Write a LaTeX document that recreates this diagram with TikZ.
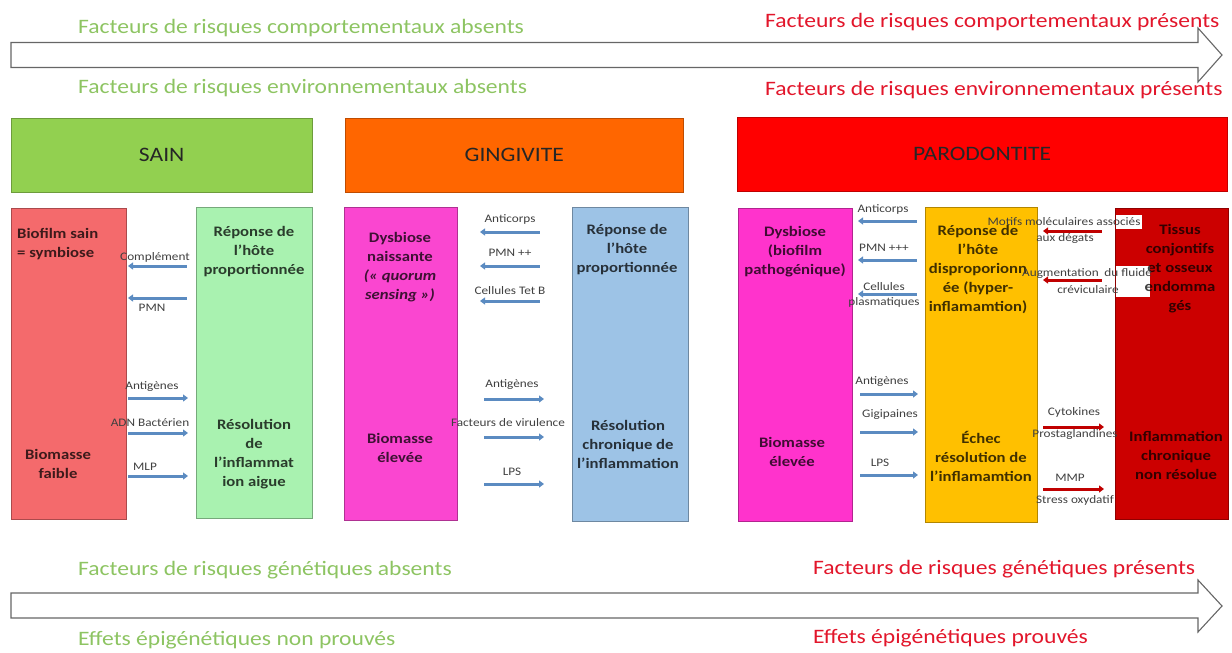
\documentclass[tikz,border=0pt]{standalone}
\usepackage{fontspec}
\setmainfont{Carlito}[FakeStretch=1.15]
\usetikzlibrary{arrows.meta}

\definecolor{absgreen}{HTML}{8DC462}
\definecolor{presred}{HTML}{E2162B}
\definecolor{sainc}{HTML}{92D050}
\definecolor{gingc}{HTML}{FF6600}
\definecolor{paroc}{HTML}{FF0000}
\definecolor{biofc}{HTML}{F46A6C}
\definecolor{repgc}{HTML}{A9F2B0}
\definecolor{dysc}{HTML}{FA46D0}
\definecolor{repbc}{HTML}{9DC3E6}
\definecolor{patc}{HTML}{FF33CC}
\definecolor{hyperc}{HTML}{FFC000}
\definecolor{tissc}{HTML}{CC0000}
\definecolor{arrblue}{HTML}{5B8BC1}
\definecolor{arrred}{HTML}{C00000}
\definecolor{labgray}{HTML}{404040}

\tikzset{
  risk/.style={font=\fontsize{20.5}{24}\selectfont, anchor=west, inner sep=0pt},
  stage/.style={draw=#1!75!black, fill=#1, anchor=north west, inner sep=0pt,
    font=\fontsize{20.5}{24}\selectfont, text=black!85},
  panel/.style={draw=#1!70!black, fill=#1, anchor=north west, inner sep=0pt},
  boxtxt/.style={font=\bfseries\fontsize{14.5}{19}\selectfont, align=center,
    text=black, text opacity=0.75, inner sep=0pt},
  lbl/.style={font=\fontsize{11.5}{15}\selectfont, text=labgray, align=center, inner sep=0pt},
  bigarrow/.style={draw=gray!80!black, line width=1.1pt, fill=white},
  blu/.style={draw=arrblue, line width=3pt},
  rouge/.style={draw=arrred, line width=3pt},
  tip/.style={-{Triangle[length=5pt,width=7pt]}},
  pit/.style={{Triangle[length=5pt,width=7pt]}-}
}

\begin{document}
\begin{tikzpicture}[x=1pt,y=-1pt]
\useasboundingbox (0,0) rectangle (1232,653);

% fleches du haut
\draw[bigarrow] (11,42.5) -- (1198,42.5) -- (1198,28) -- (1222,55) -- (1198,82)
  -- (1198,67.5) -- (11,67.5) -- cycle;
\node[risk, text=absgreen] (compabs) at (78,28) {Facteurs de risques comportementaux absents};
\node[risk, text=presred] (comppres) at (765,22) {Facteurs de risques comportementaux présents};
\node[risk, text=absgreen] (envabs) at (78,88) {Facteurs de risques environnementaux absents};
\node[risk, text=presred] (envpres) at (765,90) {Facteurs de risques environnementaux présents};

% stades
\node[stage=sainc, minimum width=301, minimum height=74] (sain) at (11,118) {SAIN};
\node[stage=gingc, minimum width=338, minimum height=74] (ging) at (345,118) {GINGIVITE};
\node[stage=paroc, minimum width=490, minimum height=74] (paro) at (737,117) {PARODONTITE};

% colonnes
\node[panel=biofc, minimum width=115, minimum height=311] (biofilm) at (11,208) {};
\node[panel=repgc, minimum width=116, minimum height=311] (repsain) at (196,207) {};
\node[panel=dysc, minimum width=113, minimum height=313] (dysnais) at (344,207) {};
\node[panel=repbc, minimum width=116, minimum height=314] (repging) at (572,207) {};
\node[panel=patc, minimum width=114, minimum height=313] (dyspat) at (738,208) {};
\node[panel=hyperc, minimum width=112, minimum height=315] (hyper) at (925,207) {};
\node[panel=tissc, minimum width=113, minimum height=311] (tissus) at (1115,208) {};
\fill[white] (1116,215) rectangle (1142,229);
\fill[white] (1116,266) rectangle (1150,297);

% textes des colonnes
\node[boxtxt, anchor=west, align=left] (biot) at (17,244) {Biofilm sain\\= symbiose};
\node[boxtxt] (biob) at (58,464) {Biomasse\\faible};
\node[boxtxt] (rsait) at (254,252) {Réponse de\\l’hôte\\proportionnée};
\node[boxtxt] (rsaib) at (254,454) {Résolution\\de\\l’inflammat\\ion aigue};
\node[boxtxt] (dnt) at (400,267) {Dysbiose\\naissante\\\textit{(« quorum}\\\textit{sensing »)}};
\node[boxtxt] (dnb) at (400,448) {Biomasse\\élevée};
\node[boxtxt] (rgit) at (627,250) {Réponse de\\l’hôte\\proportionnée};
\node[boxtxt] (rgib) at (628,444) {Résolution\\chronique de\\l’inflammation};
\node[boxtxt] (dpt) at (795,252) {Dysbiose\\(biofilm\\pathogénique)};
\node[boxtxt] (dpb) at (792,452) {Biomasse\\élevée};
\node[boxtxt] (hyt) at (978,270) {Réponse de\\l’hôte\\disproporionn\\ée (hyper-\\inflamamtion)};
\node[boxtxt] (hyb) at (981,456) {Échec\\résolution de\\l’inflamamtion};
\node[boxtxt] (tit) at (1180,269) {Tissus\\conjontifs\\et osseux\\endomma\\gés};
\node[boxtxt] (tib) at (1176,455) {Inflammation\\chronique\\non résolue};

% sain
\foreach \y in {266,298} \draw[blu,pit] (128,\y) -- (187,\y);
\foreach \y in {398,433,476} \draw[blu,tip] (128,\y) -- (188,\y);
\foreach \n/\x/\y/\t in {sa/155/257/Complément, sb/152/308/PMN, sc/152/387/Antigènes,
  sd/150/423/ADN Bactérien, se/145/467/MLP}
  \node[lbl] (\n) at (\x,\y) {\t};

% gingivite
\foreach \y in {232,266,301} \draw[blu,pit] (480,\y) -- (540,\y);
\foreach \y in {399,437,484} \draw[blu,tip] (484,\y) -- (544,\y);
\foreach \n/\x/\y/\t in {ga/510/219/Anticorps, gb/510/253/PMN ++, gc/510/291/Cellules Tet B,
  gd/512/385/Antigènes, ge/508/423/Facteurs de virulence, gf/512/472/LPS}
  \node[lbl] (\n) at (\x,\y) {\t};

% parodontite, cote biofilm
\foreach \y in {221,260,294} \draw[blu,pit] (858,\y) -- (917,\y);
\foreach \y in {394,432,475} \draw[blu,tip] (860,\y) -- (918,\y);
\foreach \n/\x/\y/\t in {pa/883/209/Anticorps, pb/884/248/PMN +++, pd/882/382/Antigènes,
  pe/890/415/Gigipaines, pf/880/463/LPS}
  \node[lbl] (\n) at (\x,\y) {\t};
\node[lbl] (pc) at (884,295) {Cellules\\plasmatiques};

% parodontite, cote tissus
\foreach \y in {231,280} \draw[rouge,pit] (1043,\y) -- (1102,\y);
\foreach \y in {427,489} \draw[rouge,tip] (1043,\y) -- (1104,\y);
\foreach \n/\x/\y/\t in {ra/1064/222/Motifs moléculaires associés, rb/1065/238/aux dégats,
  rc/1087/273/Augmentation\enspace du fluide, rd/1088/290/créviculaire,
  re/1074/412/Cytokines, rf/1075/434/Prostaglandines, rg/1070/478/MMP,
  rh/1075/500/Stress oxydatif}
  \node[lbl] (\n) at (\x,\y) {\t};

% fleche du bas
\draw[bigarrow] (11,593) -- (1198,593) -- (1198,580) -- (1222,606) -- (1198,632)
  -- (1198,618) -- (11,618) -- cycle;
\node[risk, text=absgreen] (genabs) at (78,570) {Facteurs de risques génétiques absents};
\node[risk, text=presred] (genpres) at (813,569) {Facteurs de risques génétiques présents};
\node[risk, text=absgreen] (epiabs) at (78,640) {Effets épigénétiques non prouvés};
\node[risk, text=presred] (epipres) at (813,638) {Effets épigénétiques prouvés};
\end{tikzpicture}
\end{document}
